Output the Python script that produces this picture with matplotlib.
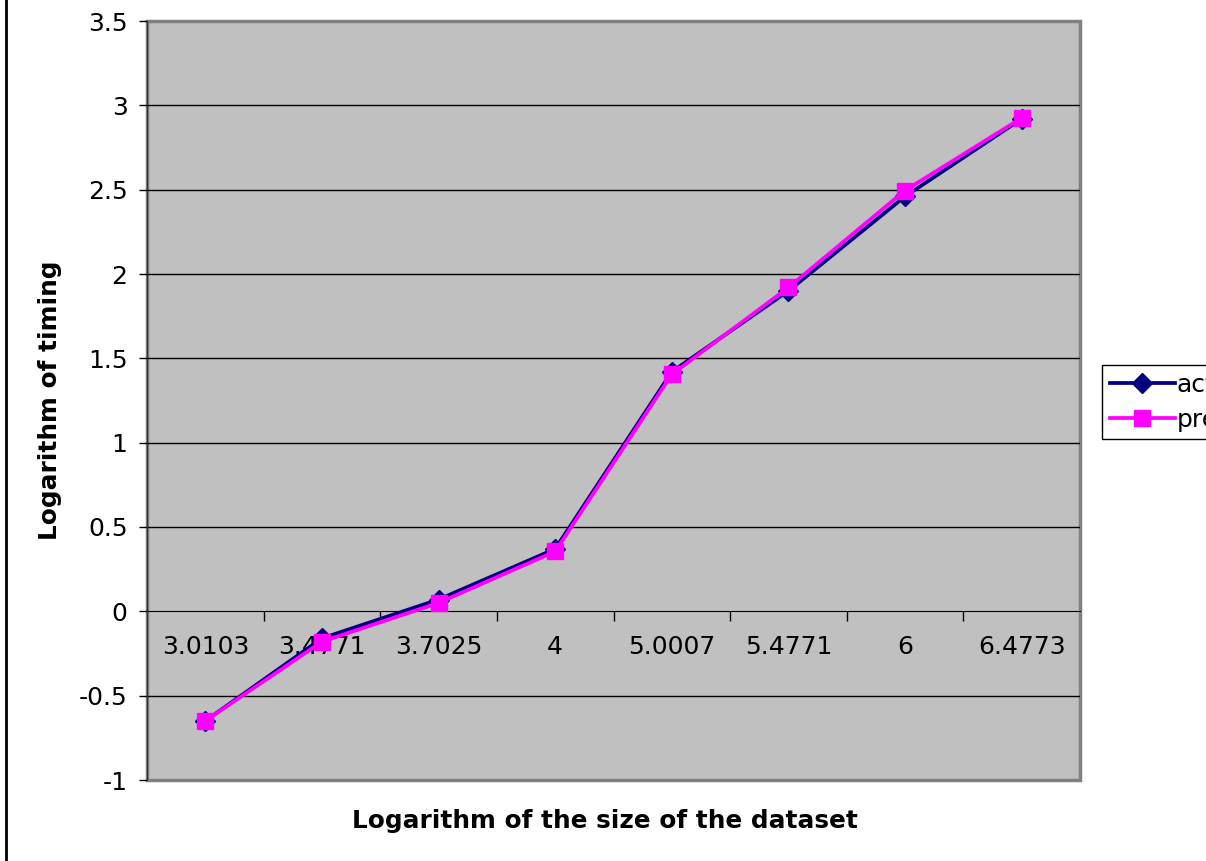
import matplotlib.pyplot as plt
from matplotlib.lines import Line2D

# data
sizes = ["3.0103", "3.4771", "3.7025", "4", "5.0007", "5.4771", "6", "6.4773"]
actual = [-0.65, -0.16, 0.07, 0.37, 1.42, 1.90, 2.46, 2.92]
predicted = [-0.65, -0.18, 0.05, 0.355, 1.405, 1.92, 2.495, 2.925]
yticks = [-1, -0.5, 0, 0.5, 1, 1.5, 2, 2.5, 3, 3.5]

plt.rcParams['font.family'] = ['DejaVu Sans']
fs = 18
lfs = 17.8

fig = plt.figure(figsize=(12.06, 8.61), dpi=100)
ax = fig.add_axes([147/1206, 1-780/861, (1080-147)/1206, (780-21)/861])
ax.set_facecolor('#C0C0C0')
ax.patch.set_edgecolor('#808080')
ax.patch.set_linewidth(2.5)

x = list(range(len(sizes)))
ax.plot(x, actual, color='#000080', lw=2.7, marker='D', ms=10, label='actual', zorder=3)
ax.plot(x, predicted, color='#FF00FF', lw=2.7, marker='s', ms=11.5, label='predicted', zorder=4)

ax.set_xlim(-0.5, len(sizes) - 0.5)
ax.set_ylim(-1, 3.5)
ax.set_yticks(yticks)
ax.set_yticklabels([f"{v:g}" for v in yticks], fontsize=fs)
for v in yticks[1:-1]:
    if v != 0:
        ax.axhline(v, color='#000000', lw=1, zorder=1)

# category axis crosses at zero
ax.spines['top'].set_visible(False)
ax.spines['right'].set_visible(False)
ax.spines['bottom'].set_position(('data', 0))
ax.spines['bottom'].set_color('black')
ax.spines['bottom'].set_zorder(2)
ax.spines['left'].set_color('#303030')
ax.set_xticks([i + 0.5 for i in x[:-1]])
ax.set_xticklabels([])
ax.set_xticks(x, minor=True)
ax.set_xticklabels(sizes, minor=True, fontsize=fs)
ax.tick_params(axis='x', which='major', direction='out', length=7, width=1, color='black')
ax.tick_params(axis='x', which='minor', length=0, pad=17)
ax.tick_params(axis='y', direction='out', length=6, width=1, pad=8, color='black')

fig.text(50/1206, 1-400/861, "Logarithm of timing", rotation=90, ha='center', va='center',
         fontsize=lfs, fontweight='bold')
fig.text(605/1206, 1-821/861, "Logarithm of the size of the dataset", ha='center', va='center',
         fontsize=lfs, fontweight='bold')

leg = fig.legend(loc='upper left', bbox_to_anchor=(1102/1206, 1-365/861), fontsize=fs,
                 frameon=True, fancybox=False, edgecolor='black', framealpha=1,
                 handlelength=2.6, handletextpad=0.1, borderpad=0.3, labelspacing=0.45,
                 borderaxespad=0)
leg.get_frame().set_linewidth(1)

# chart frame edge on the left
fig.add_artist(Line2D([6/1206, 6/1206], [0, 1], color='black', lw=2))

fig.savefig('out.png', dpi=100)
